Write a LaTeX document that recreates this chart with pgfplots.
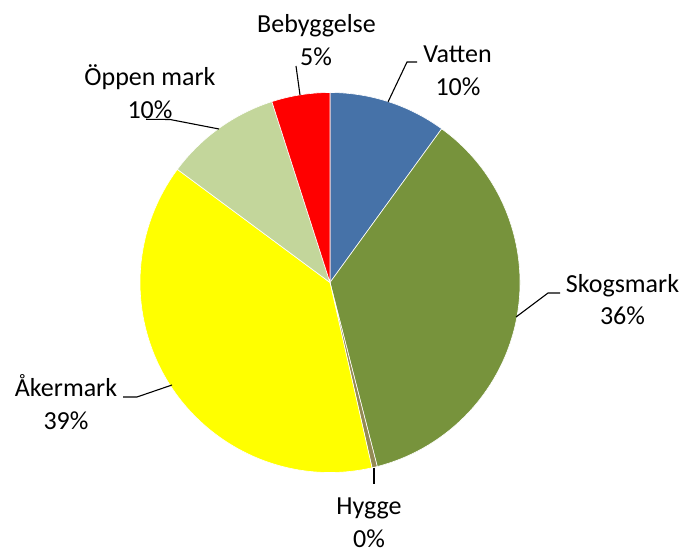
\documentclass[border=0pt]{standalone}
\usepackage{pgfplots}
\usepackage{pgfplotstable}
\pgfplotsset{compat=1.18}
\usepackage{fontspec}
\setmainfont{Carlito}
\definecolor{cVatten}{HTML}{4672A8}
\definecolor{cSkog}{HTML}{77933C}
\definecolor{cHygge}{HTML}{948A54}
\definecolor{cAker}{HTML}{FFFF00}
\definecolor{cOppen}{HTML}{C3D69B}
\definecolor{cBeb}{HTML}{FF0000}
\pgfplotstableread{
label value col
Vatten 10.0 cVatten
Skogsmark 36.0 cSkog
Hygge 0.45 cHygge
Akermark 38.7 cAker
Oppen 9.9 cOppen
Bebyggelse 4.95 cBeb
}\piedata
\begin{document}
\begin{tikzpicture}
\begin{axis}[
  x=1bp, y=1bp,
  xmin=0, xmax=682, ymin=0, ymax=548,
  hide axis, clip=false,
]
\def\cumang{90}
\pgfplotsforeachungrouped \i in {0,...,5}{%
  \pgfplotstablegetelem{\i}{value}\of\piedata \let\pval=\pgfplotsretval
  \pgfplotstablegetelem{\i}{col}\of\piedata \let\pcol=\pgfplotsretval
  \pgfmathsetmacro\endang{\cumang-3.6*\pval}%
  \edef\cmd{\noexpand\filldraw[fill=\pcol, draw=white, line width=0.6bp] (axis cs:330,265.5) -- ([shift={(\cumang:190bp)}]axis cs:330,265.5) arc[start angle=\cumang, end angle=\endang, radius=190bp] -- cycle;}%
  \cmd
  \let\cumang=\endang
}
% leader lines
\draw[black, line width=1.1bp] (axis cs:388,446) -- (axis cs:407,486) -- (axis cs:417,486);
\draw[black, line width=1.1bp] (axis cs:300,453) -- (axis cs:296,482);
\draw[black, line width=1.1bp] (axis cs:219,419) -- (axis cs:170,428.5) -- (axis cs:146,428.7);
\draw[black, line width=1.1bp] (axis cs:516,231) -- (axis cs:548,255) -- (axis cs:560,255);
\draw[black, line width=1.1bp] (axis cs:172,163) -- (axis cs:137,151) -- (axis cs:123,151);
\draw[black, line width=1.1bp] (axis cs:374,80) -- (axis cs:374,64);
% labels
\tikzset{lbl/.style={anchor=base, inner sep=0pt, font=\fontsize{26bp}{31bp}\selectfont}}
\node[lbl] at (axis cs:316.5,515) {Bebyggelse};
\node[lbl] at (axis cs:316,482) {5\%};
\node[lbl] at (axis cs:457.5,485) {Vatten};
\node[lbl] at (axis cs:458,452) {10\%};
\node[lbl] at (axis cs:150,462) {Öppen mark};
\node[lbl] at (axis cs:150,429) {10\%};
\node[lbl] at (axis cs:622.5,255) {Skogsmark};
\node[lbl] at (axis cs:622.5,223) {36\%};
\node[lbl] at (axis cs:66,151) {Åkermark};
\node[lbl] at (axis cs:66,118) {39\%};
\node[lbl] at (axis cs:369,33) {Hygge};
\node[lbl] at (axis cs:369,0) {0\%};
\end{axis}
\pgfresetboundingbox
\useasboundingbox (current axis.south west) rectangle (current axis.north east);
\end{tikzpicture}
\end{document}
